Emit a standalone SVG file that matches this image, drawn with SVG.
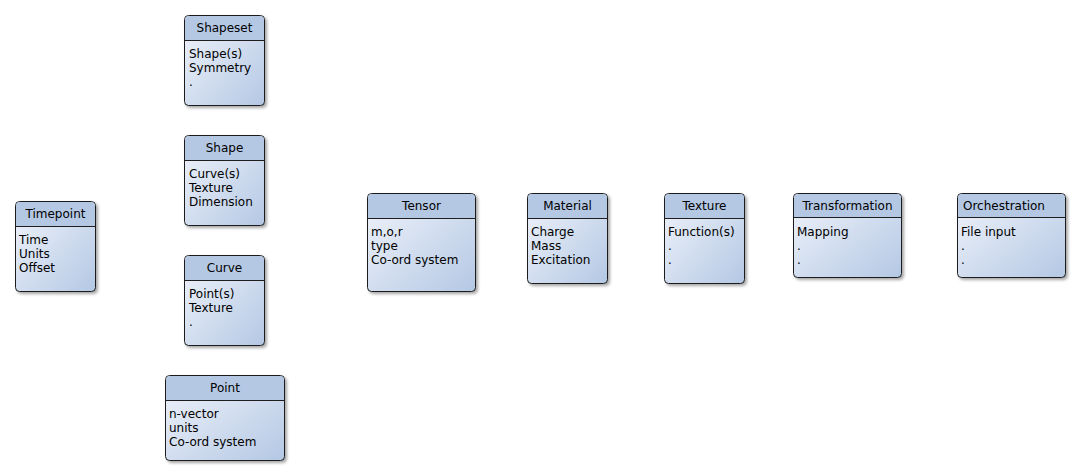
<svg xmlns="http://www.w3.org/2000/svg" width="1080" height="475" viewBox="0 0 1080 475">
<defs>
<linearGradient id="g" x1="0" y1="0" x2="1" y2="1">
<stop offset="0" stop-color="#f1f4fb"/>
<stop offset="1" stop-color="#b4c8e4"/>
</linearGradient>
<filter id="sh" x="-10%" y="-10%" width="130%" height="130%">
<feDropShadow dx="2" dy="2" stdDeviation="1.5" flood-color="#000" flood-opacity="0.35"/>
</filter>
</defs>
<style>
.box{fill:url(#g);stroke:#1e1e1e;stroke-width:1;filter:url(#sh)}
.hd{fill:#b4c8e4}
.ln{stroke:#1e1e1e;stroke-width:1}
text{font-family:"DejaVu Sans",sans-serif;font-size:12px;fill:#000}
.t{text-anchor:middle}
</style>
<g id="Shapeset">
<rect class="box" x="184.5" y="15.5" width="80" height="90" rx="4"/>
<path class="hd" d="M185,40.5 V20 a4,4 0 0 1 4,-4 H260 a4,4 0 0 1 4,4 V40.5 Z"/>
<line class="ln" x1="184.5" y1="40.5" x2="264.5" y2="40.5"/>
<text class="t" x="224.5" y="32">Shapeset</text>
<text x="189" y="58">Shape(s)</text><text x="189" y="72">Symmetry</text><text x="189" y="86">.</text>
</g>
<g id="Shape">
<rect class="box" x="184.5" y="135.5" width="80" height="90" rx="4"/>
<path class="hd" d="M185,160.5 V140 a4,4 0 0 1 4,-4 H260 a4,4 0 0 1 4,4 V160.5 Z"/>
<line class="ln" x1="184.5" y1="160.5" x2="264.5" y2="160.5"/>
<text class="t" x="224.5" y="152">Shape</text>
<text x="189" y="178">Curve(s)</text><text x="189" y="192">Texture</text><text x="189" y="206">Dimension</text>
</g>
<g id="Curve">
<rect class="box" x="184.5" y="255.5" width="80" height="90" rx="4"/>
<path class="hd" d="M185,280.5 V260 a4,4 0 0 1 4,-4 H260 a4,4 0 0 1 4,4 V280.5 Z"/>
<line class="ln" x1="184.5" y1="280.5" x2="264.5" y2="280.5"/>
<text class="t" x="224.5" y="272">Curve</text>
<text x="189" y="298">Point(s)</text><text x="189" y="312">Texture</text><text x="189" y="326">.</text>
</g>
<g id="Point">
<rect class="box" x="165.5" y="375.5" width="119" height="85" rx="4"/>
<path class="hd" d="M166,400.5 V380 a4,4 0 0 1 4,-4 H280 a4,4 0 0 1 4,4 V400.5 Z"/>
<line class="ln" x1="165.5" y1="400.5" x2="284.5" y2="400.5"/>
<text class="t" x="225" y="392">Point</text>
<text x="169" y="418">n-vector</text><text x="169" y="432">units</text><text x="169" y="446">Co-ord system</text>
</g>
<g id="Timepoint">
<rect class="box" x="15.5" y="201.5" width="80" height="90" rx="4"/>
<path class="hd" d="M16,226.5 V206 a4,4 0 0 1 4,-4 H91 a4,4 0 0 1 4,4 V226.5 Z"/>
<line class="ln" x1="15.5" y1="226.5" x2="95.5" y2="226.5"/>
<text class="t" x="55.5" y="218">Timepoint</text>
<text x="19" y="244">Time</text><text x="19" y="258">Units</text><text x="19" y="272">Offset</text>
</g>
<g id="Tensor">
<rect class="box" x="367.5" y="193.5" width="108" height="98" rx="4"/>
<path class="hd" d="M368,218.5 V198 a4,4 0 0 1 4,-4 H471 a4,4 0 0 1 4,4 V218.5 Z"/>
<line class="ln" x1="367.5" y1="218.5" x2="475.5" y2="218.5"/>
<text class="t" x="421.5" y="210">Tensor</text>
<text x="371" y="236">m,o,r</text><text x="371" y="250">type</text><text x="371" y="264">Co-ord system</text>
</g>
<g id="Material">
<rect class="box" x="527.5" y="193.5" width="80" height="90" rx="4"/>
<path class="hd" d="M528,218.5 V198 a4,4 0 0 1 4,-4 H603 a4,4 0 0 1 4,4 V218.5 Z"/>
<line class="ln" x1="527.5" y1="218.5" x2="607.5" y2="218.5"/>
<text class="t" x="567.5" y="210">Material</text>
<text x="531" y="236">Charge</text><text x="531" y="250">Mass</text><text x="531" y="264">Excitation</text>
</g>
<g id="Texture">
<rect class="box" x="664.5" y="193.5" width="80" height="90" rx="4"/>
<path class="hd" d="M665,218.5 V198 a4,4 0 0 1 4,-4 H740 a4,4 0 0 1 4,4 V218.5 Z"/>
<line class="ln" x1="664.5" y1="218.5" x2="744.5" y2="218.5"/>
<text class="t" x="704.5" y="210">Texture</text>
<text x="668" y="236">Function(s)</text><text x="668" y="250">.</text><text x="668" y="264">.</text>
</g>
<g id="Transformation">
<rect class="box" x="793.5" y="193.5" width="108" height="84" rx="4"/>
<path class="hd" d="M794,217.5 V198 a4,4 0 0 1 4,-4 H897 a4,4 0 0 1 4,4 V217.5 Z"/>
<line class="ln" x1="793.5" y1="217.5" x2="901.5" y2="217.5"/>
<text class="t" x="847.5" y="210">Transformation</text>
<text x="797" y="236">Mapping</text><text x="797" y="250">.</text><text x="797" y="264">.</text>
</g>
<g id="Orchestration">
<rect class="box" x="957.5" y="193.5" width="108" height="84" rx="4"/>
<path class="hd" d="M958,217.5 V198 a4,4 0 0 1 4,-4 H1061 a4,4 0 0 1 4,4 V217.5 Z"/>
<line class="ln" x1="957.5" y1="217.5" x2="1065.5" y2="217.5"/>
<text x="963" y="210">Orchestration</text>
<text x="961" y="236">File input</text><text x="961" y="250">.</text><text x="961" y="264">.</text>
</g>
<g id="connectors"></g>
</svg>
